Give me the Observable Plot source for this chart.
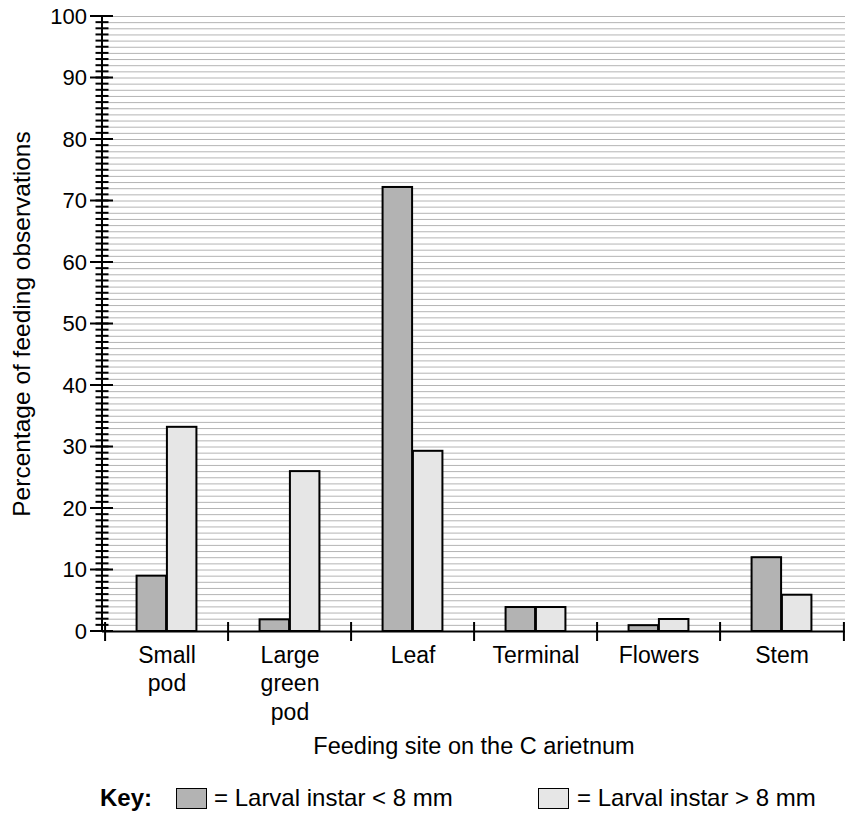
<!DOCTYPE html>
<html>
<head>
<meta charset="utf-8">
<script src="https://cdn.jsdelivr.net/npm/d3@7"></script>
<script src="https://cdn.jsdelivr.net/npm/@observablehq/plot@0.6"></script>
<style>
  body { margin: 0; background: #fff; font-family: "Liberation Sans", Arial, sans-serif; }
  #key { position: relative; height: 56px; font-size: 24px; color: #000; }
  #key .item { position: absolute; top: 0; height: 56px; display: flex; align-items: center; }
  #key .sw { display: inline-block; width: 29px; height: 19px; border: 1.5px solid #000; }
</style>
</head>
<body>
<div id="chart"></div>
<div id="key"></div>
<script>
const sites = ["Small\npod", "Large\ngreen\npod", "Leaf", "Terminal", "Flowers", "Stem"];
const smallLarvae = [9, 1.9, 72.2, 3.9, 0.95, 12];
const largeLarvae = [33.2, 26, 29.3, 3.9, 1.95, 5.9];
const seriesNames = ["Larval instar < 8 mm", "Larval instar > 8 mm"];
const seriesColors = ["#b3b3b3", "#e6e6e6"];
const majorTicks = d3.range(0, 101, 10);
const minorTicks = d3.range(0, 101, 1);
const yLabel = "Percentage of feeding observations";
const xLabel = "Feeding site on the C arietnum";

const W = 856, H = 770;
const mL = 102, mR = 11, mT = 16, mB = 139;
const bw = (W - mL - mR) / sites.length;
const barW = bw * 0.245;

const rows = [];
sites.forEach((s, i) => {
  rows.push({site: s, series: seriesNames[0], value: smallLarvae[i]});
  rows.push({site: s, series: seriesNames[1], value: largeLarvae[i]});
});

// custom y-axis line and tick marks drawn through the y scale
function yAxisMark(majors, minors) {
  return (index, scales, values, dims) => {
    const g = d3.create("svg:g").attr("stroke", "#000").attr("fill", "none");
    const x0 = dims.marginLeft;
    for (const v of minors) {
      const y = scales.y(v);
      g.append("line").attr("x1", x0 - 6.5).attr("x2", x0 + 6.5).attr("y1", y).attr("y2", y).attr("stroke-width", 2);
    }
    for (const v of majors) {
      const y = scales.y(v);
      g.append("line").attr("x1", x0 - 12).attr("x2", x0 + 11).attr("y1", y).attr("y2", y).attr("stroke-width", 2);
    }
    g.append("line").attr("x1", x0).attr("x2", x0)
      .attr("y1", scales.y(majors[0])).attr("y2", scales.y(majors[majors.length - 1])).attr("stroke-width", 2);
    return g.node();
  };
}

const plot = Plot.plot({
  width: W, height: H,
  marginLeft: mL, marginRight: mR, marginTop: mT, marginBottom: mB,
  style: {fontFamily: "'Liberation Sans', Arial, sans-serif", color: "#000", background: "#fff"},
  x: {domain: sites, padding: 0, label: null},
  y: {domain: [0, 100], label: null},
  marks: [
    Plot.gridY(minorTicks.slice(1), {stroke: "#b4b4b4", strokeOpacity: 1, strokeWidth: 1}),
    Plot.barY(rows.filter(d => d.series === seriesNames[0]), {
      x: "site", y: "value", fill: seriesColors[0], stroke: "#000", strokeWidth: 2,
      insetLeft: bw / 2 - barW, insetRight: bw / 2
    }),
    Plot.barY(rows.filter(d => d.series === seriesNames[1]), {
      x: "site", y: "value", fill: seriesColors[1], stroke: "#000", strokeWidth: 2,
      insetLeft: bw / 2, insetRight: bw / 2 - barW
    }),
    Plot.ruleY([0], {stroke: "#000", strokeWidth: 2}),
    Plot.ruleX(sites, {x: d => d, dx: -bw / 2, y1: 0, y2: 0, insetTop: -9, insetBottom: -10, stroke: "#000", strokeWidth: 2}),
    Plot.ruleX(sites.slice(-1), {x: d => d, dx: bw / 2, y1: 0, y2: 0, insetTop: -9, insetBottom: -10, stroke: "#000", strokeWidth: 2}),
    yAxisMark(majorTicks, minorTicks),
    Plot.axisY({ticks: majorTicks, tickSize: 0, tickPadding: 15.5, fontSize: 22, label: null}),
    Plot.axisX({tickSize: 0, tickPadding: 11, fontSize: 23, lineHeight: 1.24, label: null}),
    Plot.text([yLabel], {frameAnchor: "left", textAnchor: "middle", dx: -80, rotate: -90, fontSize: 24.5}),
    Plot.text([xLabel], {frameAnchor: "bottom", textAnchor: "middle", dy: 122, fontSize: 23.5})
  ]
});
document.getElementById("chart").appendChild(plot);

const key = d3.select("#key");
key.append("div").attr("class", "item").style("left", "100px").style("font-weight", "bold").text("Key:");
const lefts = [[176, 214], [538, 577]];
seriesNames.forEach((name, i) => {
  key.append("div").attr("class", "item").style("left", lefts[i][0] + "px")
    .append("span").attr("class", "sw").style("background", seriesColors[i]);
  key.append("div").attr("class", "item").style("left", lefts[i][1] + "px").text("= " + name);
});
</script>
</body>
</html>
